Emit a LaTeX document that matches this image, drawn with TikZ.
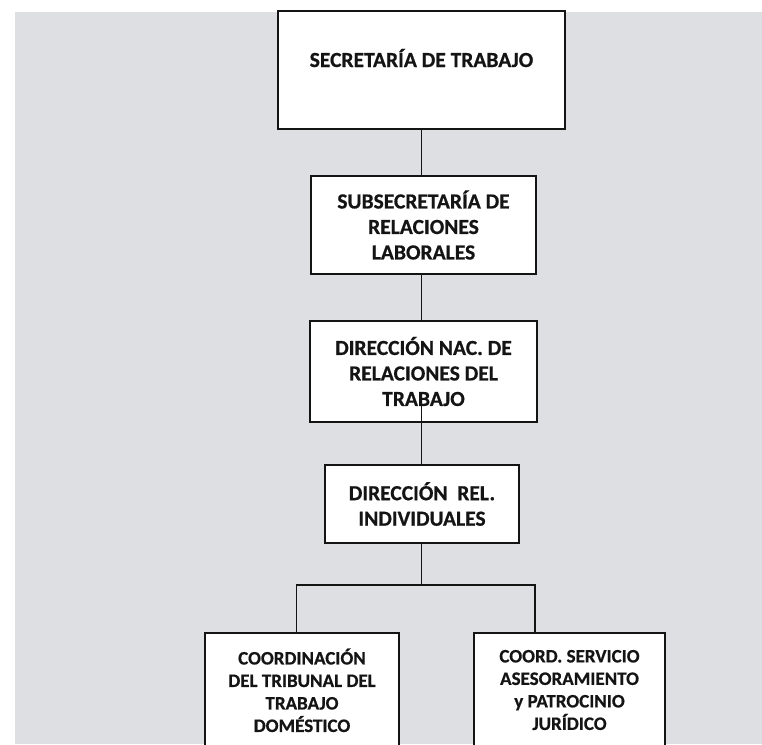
\documentclass[tikz,border=0pt]{standalone}
\usepackage{fontspec}
\setmainfont{Carlito}[BoldFeatures={FakeBold=0.6}]
\definecolor{paper}{RGB}{221,223,227}
\definecolor{ink}{RGB}{20,20,20}
\begin{document}
\begin{tikzpicture}[x=1pt,y=-1pt,
  box/.style={draw=ink, line width=2pt, fill=white, inner sep=0pt, outer sep=0pt,
    align=center, text=ink, font=\bfseries\fontsize{21.5}{25.5}\selectfont},
  smallbox/.style={box, font=\bfseries\fontsize{19}{22.5}\selectfont},
  link/.style={draw=ink, line width=1.9pt}]
\useasboundingbox (0,0) rectangle (762,744);
\clip (0,0) rectangle (762,744);
\fill[white] (0,0) rectangle (762,744);
\fill[paper] (15,12) rectangle (762,744);

\node[box, minimum width=287pt, minimum height=118pt] (A) at (421.5,70)
  {\raisebox{3pt}[0pt][0pt]{SECRETARÍA DE TRABAJO}};
\node[box, minimum width=225pt, minimum height=98pt] (B) at (423.5,225)
  {SUBSECRETARÍA DE\\RELACIONES\\LABORALES};
\node[box, minimum width=227pt, minimum height=101pt] (C) at (423.5,371.5)
  {DIRECCIÓN NAC. DE\\RELACIONES DEL\\TRABAJO};
\node[box, minimum width=194pt, minimum height=78pt] (D) at (422,504)
  {DIRECCIÓN\ \ REL.\\INDIVIDUALES};
\node[smallbox, minimum width=194pt, minimum height=114.6pt] (E) at (302,690.3)
  {COORDINACIÓN\\DEL TRIBUNAL DEL\\TRABAJO\\DOMÉSTICO};
\node[smallbox, minimum width=191pt, minimum height=114.6pt] (F) at (569.5,690)
  {COORD. SERVICIO\\ASESORAMIENTO\\y PATROCINIO\\JURÍDICO};

\coordinate (ctop) at (421.5,397);
\coordinate (jl) at (296.5,585);
\coordinate (jr) at (535,585);

\draw[link] (A.south) -- (A.south |- B.north);
\draw[link] (A.south |- B.south) -- (A.south |- C.north);
\draw[link] (ctop) -- (ctop |- D.north);
\draw[link] (ctop |- D.south) -- (ctop |- jl);
\draw[link] (jl |- E.north) -- (jl) -- (jr) -- (jr |- F.north);
\end{tikzpicture}
\end{document}
